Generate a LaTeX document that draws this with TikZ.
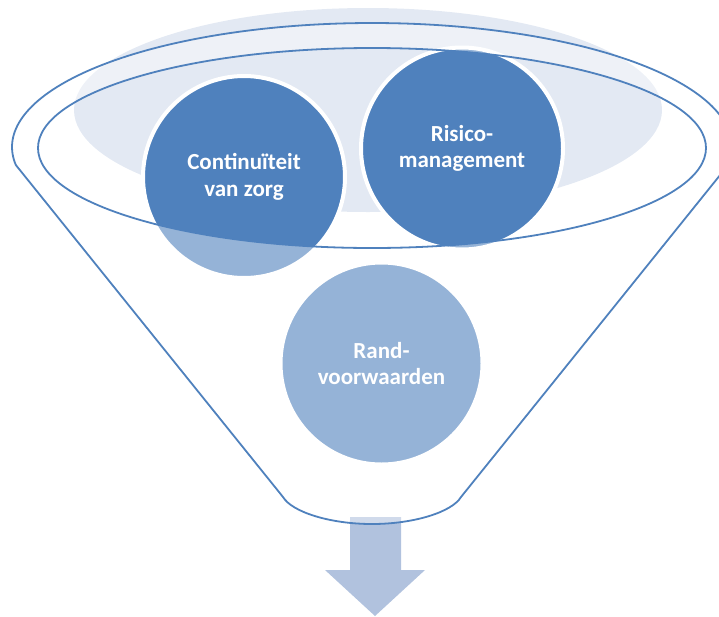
\documentclass[tikz,border=0pt]{standalone}
\usepackage{fontspec}
\setmainfont{Carlito}
\definecolor{accent}{HTML}{4F81BD}
\definecolor{lightell}{HTML}{E3E9F3}
\definecolor{arrowcol}{HTML}{B1C2DE}
\begin{document}
\begin{tikzpicture}[x=1pt,y=-1pt,
  bubble/.style={circle, minimum size=202pt, inner sep=0pt, fill=accent, draw=white, line width=4pt},
  bubbletext/.style={text=white, font=\bfseries\fontsize{23}{26.5}\selectfont, align=center, inner sep=0pt},
  rim/.style={draw=accent, line width=1.8pt, line join=round}
]
\useasboundingbox (0,0) rectangle (719,616);
% light liquid ellipse
\fill[lightell] (368,110) ellipse [x radius=294, y radius=102];
% arrow below the funnel
\fill[arrowcol] (350,517) -- (401,517) -- (401,570) -- (425,570) -- (375,616) -- (325,570) -- (350,570) -- cycle;
% circles
\node[bubble] (c1) at (244,177) {};
\node[bubble] (c2) at (462,148.5) {};
\node[bubble] (c3) at (381.5,363.5) {};
% translucent funnel body
\fill[white, fill opacity=0.4, even odd rule]
  plot[domain=171.65:368.35, samples=150] ({372+360*cos(\x)},{147+124*sin(\x)})
  -- (461,497) .. controls (452,512) and (414,524) .. (372,524)
  .. controls (330,524) and (292,512) .. (283,497) -- cycle
  (372,148) ellipse [x radius=334, y radius=100];
% funnel outlines
\draw[rim]
  plot[domain=171.65:368.35, samples=150] ({372+360*cos(\x)},{147+124*sin(\x)})
  -- (461,497) .. controls (452,512) and (414,524) .. (372,524)
  .. controls (330,524) and (292,512) .. (283,497) -- cycle;
\draw[rim] (372,148) ellipse [x radius=334, y radius=100];
% texts
\node[bubbletext] (t1) at (c1.center) {Continuïteit\\van zorg};
\node[bubbletext] (t2) at (c2.center) {Risico-\\management};
\node[bubbletext] (t3) at (c3.center) {Rand-\\voorwaarden};
\end{tikzpicture}
\end{document}
